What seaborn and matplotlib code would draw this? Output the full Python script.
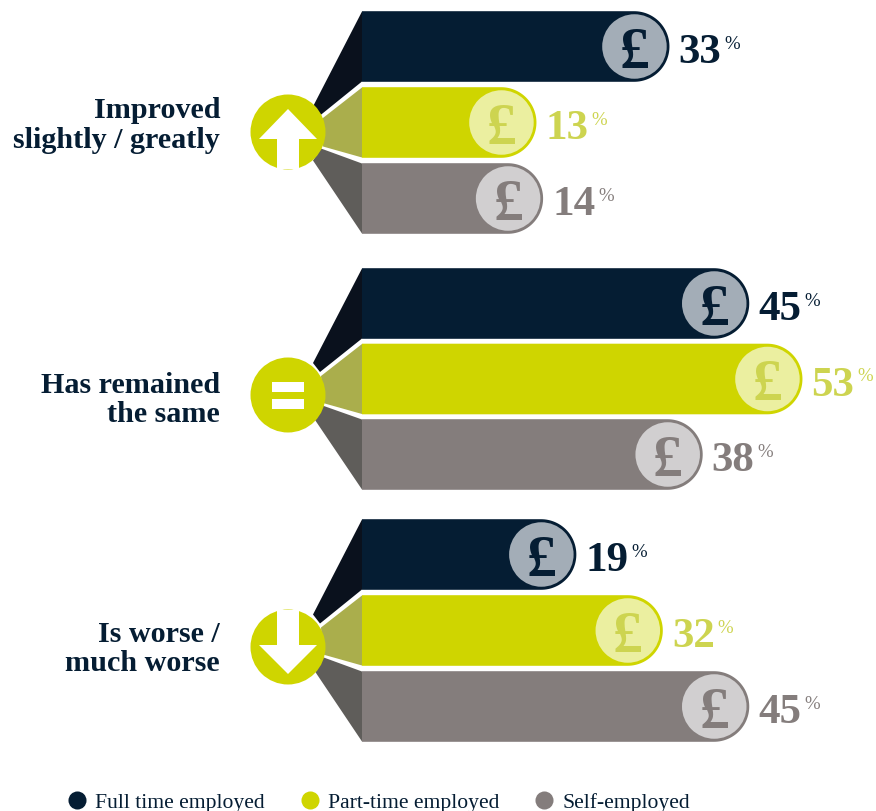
import numpy as np
import pandas as pd
import matplotlib
matplotlib.use("Agg")
import matplotlib.pyplot as plt
from matplotlib.lines import Line2D
from matplotlib.patches import Ellipse, Polygon
import seaborn as sns

# Survey results, one list per employment type
groups = ["Improved slightly / greatly", "Has remained the same", "Is worse / much worse"]
group_lines = [["Improved", "slightly / greatly"], ["Has remained", "the same"], ["Is worse /", "much worse"]]
employment = ["Full time employed", "Part-time employed", "Self-employed"]
full_time = [33, 45, 19]
part_time = [13, 53, 32]
self_employed = [14, 38, 45]

# Styling
bar_colors = ["#051D33", "#CFD500", "#847D7C"]
wedge_colors = ["#0A111D", "#AAAE4C", "#5F5D5A"]
coin_colors = ["#A3ADB7", "#EBEFA0", "#D1CFD0"]
coin_text = ["#051D33", "#CDD450", "#847D7C"]
value_colors = ["#051D33", "#CDD450", "#847D7C"]
SERIF = "Liberation Serif"

W, H = 876, 812
PX_PER_PCT = 6.65
ZERO_PX = 450
BAR_LEFT_PX = 362
ROW_CENTERS = [[47.5, 123.5, 199.5], [304.5, 380, 455.5], [555.5, 631.5, 707.5]]
ICON_CENTERS = [133, 396, 648]
LABEL_Y = [[108, 138], [383, 412], [632, 661]]
ICON_X, ICON_R = 288, 37.5

sns.set_theme(style="white")
fig = plt.figure(figsize=(W / 100, H / 100), dpi=100, facecolor="white")
ax = fig.add_axes([0, 0, 1, 1])

rows = []
for g, vals in enumerate(zip(full_time, part_time, self_employed)):
    for e, v in enumerate(vals):
        rows.append({"group": groups[g], "employment": employment[e], "value": v,
                     "row": ROW_CENTERS[g][e]})
df = pd.DataFrame(rows)

sns.barplot(data=df, x="value", y="row", hue="employment", hue_order=employment,
            palette=bar_colors, saturation=1, orient="h", native_scale=True, dodge=False,
            width=70 / 75, legend=False, ax=ax)

px = lambda x: (x - ZERO_PX) / PX_PER_PCT
ax.set_xlim(px(0), px(W))
ax.set_ylim(H, 0)
ax.set_axis_off()


def pill(x_end_px, yc, color, half=35.3):
    """Bar outline with a fully rounded right end, in data units."""
    t = np.linspace(-np.pi / 2, np.pi / 2, 60)
    xs = x_end_px - half + half * np.cos(t)
    ys = yc + half * np.sin(t)
    pts = np.column_stack([
        px(np.r_[BAR_LEFT_PX, xs, BAR_LEFT_PX]),
        np.r_[yc - half, ys, yc + half],
    ])
    return Polygon(pts, closed=True, fc=color, ec="none", zorder=3)


# Each seaborn bar supplies its value and row; its square end is replaced by a pill
flat_rows = [r[i] for r in ROW_CENTERS for i in range(3)]
for patch in list(ax.patches):
    value = patch.get_width()
    yc = patch.get_y() + patch.get_height() / 2
    color = patch.get_facecolor()
    e = int(np.argmin([abs(yc - r) for r in flat_rows])) % 3
    end_px = ZERO_PX + value * PX_PER_PCT
    patch.set_visible(False)
    ax.add_patch(pill(end_px, yc, color))

    # Coin with pound sign at the end of the bar
    cx = end_px - 35
    ax.add_patch(Ellipse((px(cx), yc), 64.5 / PX_PER_PCT, 64.5, fc=coin_colors[e], ec="none", zorder=4))
    ax.text(px(cx), yc, "£", family=SERIF, weight="bold", fontsize=43,
            color=coin_text[e], ha="center", va="center_baseline", zorder=5)

    # Value label with small raised percent sign
    num = ax.annotate(f"{value:.0f}", (value, yc), xytext=(6.5, -1.0), textcoords="offset points",
                      family=SERIF, weight="bold", fontsize=31, color=value_colors[e],
                      ha="left", va="center_baseline", zorder=5)
    ax.annotate("%", (1, 1), xycoords=num, xytext=(2, -1), textcoords="offset points",
                family=SERIF, fontsize=13.5, color=value_colors[e], ha="left", va="top", zorder=5)

for g, cy in enumerate(ICON_CENTERS):
    top, mid, bottom = ROW_CENTERS[g]
    # Wedges joining the icon to the start of each bar
    wedges = [
        [(BAR_LEFT_PX, top - 35), (BAR_LEFT_PX, top + 35), (320, mid - 7), (313, mid - 16)],
        [(BAR_LEFT_PX, mid - 35), (BAR_LEFT_PX, mid + 35), (323, mid + 24), (321, mid - 3)],
        [(BAR_LEFT_PX, bottom - 35), (BAR_LEFT_PX, bottom + 35), (313, mid + 38), (321, mid + 26)],
    ]
    for e, w in enumerate(wedges):
        pts = [(px(x), y) for x, y in w]
        ax.add_patch(Polygon(pts, closed=True, fc=wedge_colors[e], ec="none", zorder=2))

    ax.add_patch(Ellipse((px(ICON_X), cy), 2 * ICON_R / PX_PER_PCT, 2 * ICON_R,
                         fc=bar_colors[1], ec="none", zorder=6))
    # Direction symbols in white
    sym = []
    if g == 0:
        sym.append([(ICON_X, cy - 23), (ICON_X + 29, cy + 7), (ICON_X + 11, cy + 7),
                    (ICON_X + 11, cy + 37), (ICON_X - 11, cy + 37), (ICON_X - 11, cy + 7), (ICON_X - 29, cy + 7)])
    elif g == 1:
        sym.append([(ICON_X - 16, cy - 13), (ICON_X + 16, cy - 13), (ICON_X + 16, cy - 3), (ICON_X - 16, cy - 3)])
        sym.append([(ICON_X - 16, cy + 4), (ICON_X + 16, cy + 4), (ICON_X + 16, cy + 14), (ICON_X - 16, cy + 14)])
    else:
        sym.append([(ICON_X, cy + 27), (ICON_X + 29, cy - 2), (ICON_X + 11, cy - 2),
                    (ICON_X + 11, cy - 37), (ICON_X - 11, cy - 37), (ICON_X - 11, cy - 2), (ICON_X - 29, cy - 2)])
    for s in sym:
        ax.add_patch(Polygon([(px(x), y) for x, y in s], closed=True, fc="white", ec="none", zorder=7))

    # Category label, right aligned beside the icon
    for line, y in zip(group_lines[g], LABEL_Y[g]):
        ax.text(px(220), y, line, family=SERIF, weight="bold", fontsize=21.7, color="#051D33",
                ha="right", va="center_baseline", zorder=5)

handles = [Line2D([], [], ls="none", marker="o", ms=13, mfc=c, mec="none") for c in bar_colors]
leg = ax.legend(handles, employment, ncol=3, loc="center left", bbox_to_anchor=(66 / W, 1 - 803 / H),
                bbox_transform=fig.transFigure, frameon=False, borderpad=0, borderaxespad=0,
                handletextpad=0.34, columnspacing=1.58, handlelength=1.0,
                prop={"family": SERIF, "size": 15.6})
for t in leg.get_texts():
    t.set_color("#051D33")

fig.savefig("out.png", dpi=100, facecolor="white")
